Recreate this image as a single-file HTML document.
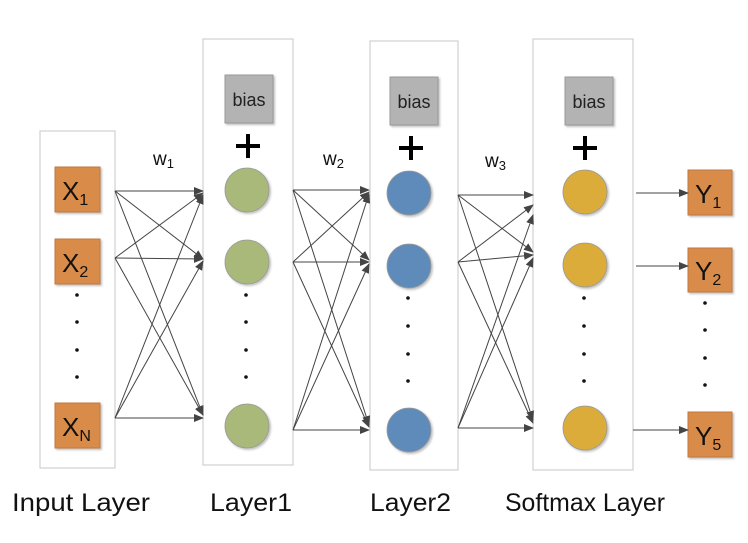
<!DOCTYPE html>
<html><head><meta charset="utf-8"><style>
body{margin:0;background:#fff;}
svg text{font-family:"Liberation Sans",sans-serif;}
</style></head><body>
<svg width="748" height="538" viewBox="0 0 748 538" xmlns="http://www.w3.org/2000/svg">
<defs>
<marker id="a" markerWidth="10" markerHeight="8" refX="9" refY="4" orient="auto" markerUnits="userSpaceOnUse">
<path d="M0,0 L10,4 L0,8 Z" fill="#444"/></marker>
<filter id="s" x="-20%" y="-20%" width="150%" height="150%"><feDropShadow dx="1.5" dy="1.5" stdDeviation="1" flood-color="#000" flood-opacity="0.25"/></filter>
</defs>
<g fill="#fff" stroke="#d0d0d0" stroke-width="1.2">
<rect x="40" y="131" width="75" height="337"/>
<rect x="203" y="39" width="90" height="426"/>
<rect x="370" y="41" width="88" height="429"/>
<rect x="533" y="39" width="100" height="431"/>
</g>
<g fill="#d98b4a" stroke="#c07a40" filter="url(#s)">
<rect x="55" y="167" width="45" height="45"/>
<rect x="55" y="239" width="45" height="45"/>
<rect x="55" y="403" width="45" height="45"/>
<rect x="688" y="170" width="44" height="45"/>
<rect x="688" y="248" width="44" height="44"/>
<rect x="688" y="412" width="44" height="45"/>
</g>
<g font-size="26" fill="#111">
<text x="62" y="200">X<tspan font-size="16" dy="5">1</tspan></text>
<text x="62" y="272">X<tspan font-size="16" dy="5">2</tspan></text>
<text x="62" y="436">X<tspan font-size="16" dy="5">N</tspan></text>
<text x="695" y="203">Y<tspan font-size="16" dy="5">1</tspan></text>
<text x="695" y="280">Y<tspan font-size="16" dy="5">2</tspan></text>
<text x="695" y="445">Y<tspan font-size="16" dy="5">5</tspan></text>
</g>
<g fill="#b3b3b3" stroke="#999" filter="url(#s)">
<rect x="225" y="75" width="48" height="48"/>
<rect x="390" y="77" width="48" height="48"/>
<rect x="565" y="77" width="48" height="48"/>
</g>
<g font-size="18" fill="#222" text-anchor="middle">
<text x="249" y="106">bias</text><text x="414" y="108">bias</text><text x="589" y="108">bias</text>
</g>
<g stroke="#000" stroke-width="4">
<path d="M236 146h24M248 134v24"/><path d="M399 148h24M411 136v24"/><path d="M573 148h24M585 136v24"/>
</g>
<g font-size="19" fill="#111">
<text x="153" y="165">w<tspan font-size="13" dy="3">1</tspan></text>
<text x="323" y="165">w<tspan font-size="13" dy="3">2</tspan></text>
<text x="485" y="167">w<tspan font-size="13" dy="3">3</tspan></text>
</g>
<g stroke="#999" stroke-width="0.8" filter="url(#s)">
<g fill="#a9b97a"><circle cx="247" cy="190" r="22"/><circle cx="247" cy="262" r="22"/><circle cx="247" cy="426" r="22"/></g>
<g fill="#5f8bba"><circle cx="409" cy="193" r="22"/><circle cx="409" cy="266" r="22"/><circle cx="409" cy="430" r="22"/></g>
<g fill="#dcac3a"><circle cx="585" cy="192" r="22"/><circle cx="585" cy="265" r="22"/><circle cx="585" cy="428" r="22"/></g>
</g>
<g fill="#111">
<circle cx="77" cy="295" r="1.8"/><circle cx="77" cy="322" r="1.8"/><circle cx="77" cy="350" r="1.8"/><circle cx="77" cy="377" r="1.8"/>
<circle cx="246" cy="295" r="1.8"/><circle cx="246" cy="322" r="1.8"/><circle cx="246" cy="350" r="1.8"/><circle cx="246" cy="377" r="1.8"/>
<circle cx="408" cy="298" r="1.8"/><circle cx="408" cy="326" r="1.8"/><circle cx="408" cy="354" r="1.8"/><circle cx="408" cy="381" r="1.8"/>
<circle cx="584" cy="298" r="1.8"/><circle cx="584" cy="326" r="1.8"/><circle cx="584" cy="354" r="1.8"/><circle cx="584" cy="381" r="1.8"/>
<circle cx="705" cy="303" r="1.8"/><circle cx="705" cy="330" r="1.8"/><circle cx="705" cy="358" r="1.8"/><circle cx="705" cy="385" r="1.8"/>
</g>
<g stroke="#444" stroke-width="1" fill="none" marker-end="url(#a)">
<path d="M115 191L203 191"/><path d="M115 191L203 259"/><path d="M115 191L203 415"/>
<path d="M115 258L203 193"/><path d="M115 258L203 259"/><path d="M115 258L203 415"/>
<path d="M115 418L203 195"/><path d="M115 418L203 261"/><path d="M115 418L203 418"/>
<path d="M293 190L369 190"/><path d="M293 190L369 260"/><path d="M293 190L369 425"/>
<path d="M293 262L369 192"/><path d="M293 262L369 262"/><path d="M293 262L369 427"/>
<path d="M293 430L369 194"/><path d="M293 430L369 264"/><path d="M293 430L369 430"/>
<path d="M458 195L533 195"/><path d="M458 195L533 252"/><path d="M458 195L533 420"/>
<path d="M458 262L533 205"/><path d="M458 262L533 255"/><path d="M458 262L533 423"/>
<path d="M458 428L533 215"/><path d="M458 428L533 258"/><path d="M458 428L533 428"/>
<path d="M636 193L688 193"/><path d="M636 266L688 266"/><path d="M633 430L688 430"/>
</g>
<g font-size="25" fill="#111">
<text x="12" y="511" textLength="138" lengthAdjust="spacingAndGlyphs">Input Layer</text>
<text x="210" y="511" textLength="82" lengthAdjust="spacingAndGlyphs">Layer1</text>
<text x="370" y="511" textLength="81" lengthAdjust="spacingAndGlyphs">Layer2</text>
<text x="505" y="511" textLength="160" lengthAdjust="spacingAndGlyphs">Softmax Layer</text>
</g>
</svg>
</body></html>
